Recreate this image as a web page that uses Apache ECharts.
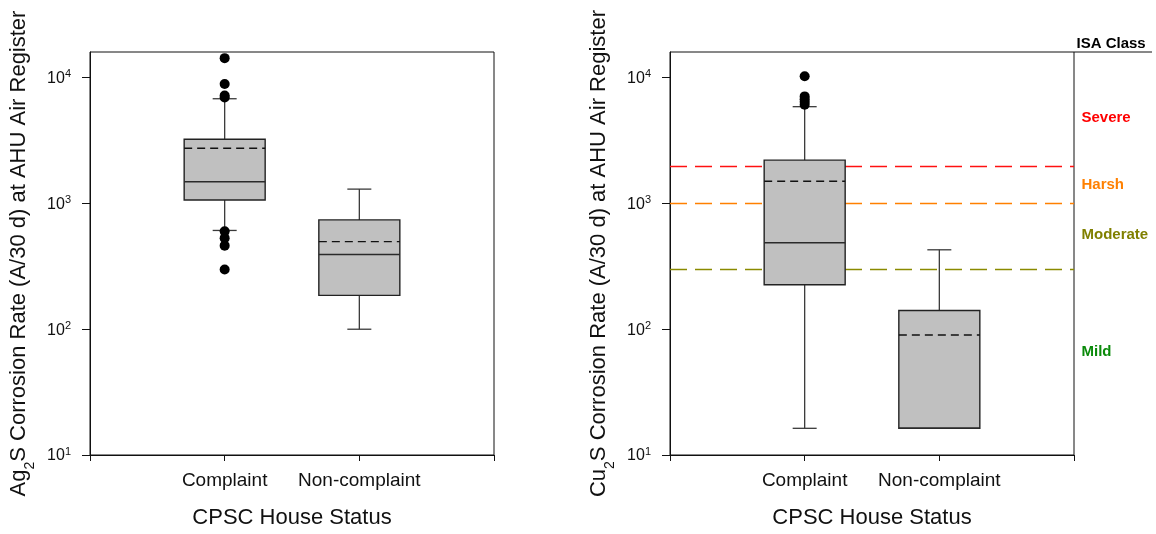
<!DOCTYPE html>
<html>
<head>
<meta charset="utf-8">
<script src="https://cdn.jsdelivr.net/npm/echarts@6/dist/echarts.min.js"></script>
<style>
html,body{margin:0;padding:0;background:#fff;}
#chart{width:1156px;height:534px;}
</style>
</head>
<body>
<div id="chart"></div>
<script>
// ---------- data ----------
const categories = ['', 'Complaint', 'Non-complaint', ''];
const boxPositions = [1, 2];           // category indexes of the two boxes
const yTicks = [10, 100, 1000, 10000];

// Ag2S panel (Complaint, Non-complaint)
const agWhiskerLow  = [610, 100];
const agQ1          = [1065, 186];
const agMedian      = [1490, 393];
const agQ3          = [3240, 740];
const agWhiskerHigh = [6800, 1300];
const agMean        = [2750, 497];
const agOutliersComplaint    = [14300, 8900, 7200, 6950, 600, 530, 462, 298];
const agOutliersNonComplaint = [];

// Cu2S panel (Complaint, Non-complaint)
const cuWhiskerLow  = [16.3, 16.3];
const cuQ1          = [226, 16.3];
const cuMedian      = [487, 16.3];
const cuQ3          = [2210, 141];
const cuWhiskerHigh = [5880, 428];
const cuMean        = [1500, 90];
const cuOutliersComplaint    = [10250, 7100, 6750, 6400, 6100];
const cuOutliersNonComplaint = [];

// ISA classification
const isaLimits = [2000, 1000, 300];
const isaClasses = ['Severe', 'Harsh', 'Moderate', 'Mild'];
const isaClassLabelY = [4800, 1400, 560, 66];
const isaHeader = 'ISA Class';
const isaHeaderY = 18500;

// ---------- styles ----------
const FONT = "'Liberation Sans', Arial, Helvetica, sans-serif";
const isaLineColors = ['#ff1010', '#ff8000', '#8a8a00'];
const isaTextColors = ['#ff0000', '#ff8000', '#808000', '#0a8a0a'];

function boxData(lo, q1, md, q3, hi, mn) {
  return boxPositions.map((p, i) => [p, lo[i], q1[i], md[i], q3[i], hi[i], mn[i]]);
}
function outlierData(comp, non) {
  return comp.map(v => [boxPositions[0], v]).concat(non.map(v => [boxPositions[1], v]));
}

function renderBox(params, api) {
  const x = api.value(0);
  const lo = api.coord([x, api.value(1)]);
  const q1 = api.coord([x, api.value(2)]);
  const md = api.coord([x, api.value(3)]);
  const q3 = api.coord([x, api.value(4)]);
  const hi = api.coord([x, api.value(5)]);
  const mn = api.coord([x, api.value(6)]);
  const cx = lo[0];
  const hw = 40.5, cw = 12;
  const wStyle = { stroke: '#3a3a3a', lineWidth: 1.3 };
  return {
    type: 'group',
    children: [
      { type: 'line', shape: { x1: cx, y1: q3[1], x2: cx, y2: hi[1] }, style: wStyle },
      { type: 'line', shape: { x1: cx - cw, y1: hi[1], x2: cx + cw, y2: hi[1] }, style: wStyle },
      { type: 'line', shape: { x1: cx, y1: q1[1], x2: cx, y2: lo[1] }, style: wStyle },
      { type: 'line', shape: { x1: cx - cw, y1: lo[1], x2: cx + cw, y2: lo[1] }, style: wStyle },
      { type: 'rect', shape: { x: cx - hw, y: q3[1], width: hw * 2, height: q1[1] - q3[1] },
        style: { fill: '#c0c0c0', stroke: '#222', lineWidth: 1.4 } },
      { type: 'line', shape: { x1: cx - hw, y1: md[1], x2: cx + hw, y2: md[1] },
        style: { stroke: '#2a2a2a', lineWidth: 1.5 } },
      { type: 'line', shape: { x1: cx - hw, y1: mn[1], x2: cx + hw, y2: mn[1] },
        style: { stroke: '#111', lineWidth: 1.4, lineDash: [8, 5] } }
    ]
  };
}

function renderIsaLine(params, api) {
  const v = api.value(0);
  const i = params.dataIndex;
  const a = api.coord([0, v]);
  const b = api.coord([categories.length - 1, v]);
  const y = Math.round(a[1]) + 0.5;
  return {
    type: 'line',
    shape: { x1: a[0], y1: y, x2: b[0], y2: y },
    style: { stroke: isaLineColors[i], lineWidth: 1.6, lineDash: [17, 8], opacity: 1 }
  };
}

function yAxisFor(gridIndex, title) {
  return {
    type: 'log', gridIndex: gridIndex, min: 10, max: 16000, logBase: 10,
    name: title, nameLocation: 'middle', nameGap: 60, nameRotate: 90,
    nameTextStyle: {
      fontFamily: FONT, color: '#111',
      rich: {
        n: { fontFamily: FONT, fontSize: 22, lineHeight: 22, color: '#111', verticalAlign: 'top' },
        sub: { fontFamily: FONT, fontSize: 14, lineHeight: 14, color: '#111', verticalAlign: 'top', padding: [15, 0, 0, 0] }
      }
    },
    axisLine: { show: true, lineStyle: { color: '#111', width: 1 } },
    axisTick: { show: true, length: 8, inside: false, customValues: yTicks, lineStyle: { color: '#111' } },
    minorTick: { show: false },
    splitLine: { show: false },
    axisLabel: {
      customValues: yTicks, margin: 19, fontFamily: FONT, color: '#111',
      formatter: v => '{b|10}{s|' + Math.round(Math.log10(v)) + '}',
      rich: {
        b: { fontFamily: FONT, fontSize: 16, lineHeight: 18, color: '#111', verticalAlign: 'bottom' },
        s: { fontFamily: FONT, fontSize: 11, lineHeight: 9, color: '#111', verticalAlign: 'top' }
      }
    }
  };
}

function xAxisFor(gridIndex) {
  return {
    type: 'category', gridIndex: gridIndex, data: categories, boundaryGap: false,
    name: 'CPSC House Status', nameLocation: 'middle', nameGap: 52,
    nameTextStyle: { fontFamily: FONT, fontSize: 22, color: '#111' },
    axisLine: { show: true, lineStyle: { color: '#111', width: 1 } },
    axisTick: { show: true, length: 6, inside: false, interval: 0, lineStyle: { color: '#111' } },
    axisLabel: { interval: 0, margin: 16, fontFamily: FONT, fontSize: 19, color: '#111' },
    splitLine: { show: false }
  };
}

const chart = echarts.init(document.getElementById('chart'), null, { renderer: 'canvas' });

const option = {
  backgroundColor: '#fff',
  animation: false,
  grid: [
    { left: 90, right: 662, top: 52, bottom: 78, show: true, borderColor: '#111', borderWidth: 1, backgroundColor: 'transparent' },
    { left: 670, right: 82, top: 52, bottom: 78, show: true, borderColor: '#111', borderWidth: 1, backgroundColor: 'transparent' }
  ],
  xAxis: [xAxisFor(0), xAxisFor(1)],
  yAxis: [
    yAxisFor(0, '{n|Ag}{sub|2}{n|S Corrosion Rate (A/30 d) at AHU Air Register}'),
    yAxisFor(1, '{n|Cu}{sub|2}{n|S Corrosion Rate (A/30 d) at AHU Air Register}')
  ],
  graphic: [
    { type: 'line', shape: { x1: 1074, y1: 52, x2: 1152, y2: 52 }, style: { stroke: '#111', lineWidth: 1 }, z: 10 }
  ],
  series: [
    // ISA threshold lines (right panel)
    {
      type: 'custom', xAxisIndex: 1, yAxisIndex: 1, z: 1, silent: true, renderItem: renderIsaLine,
      encode: { y: 0 },
      data: isaLimits.map(v => [v])
    },
    // ISA class labels (right margin of right panel)
    {
      type: 'scatter', xAxisIndex: 1, yAxisIndex: 1, clip: false, z: 1, silent: true,
      symbolSize: 1, itemStyle: { color: 'rgba(0,0,0,0)', opacity: 1 },
      data: isaClasses.map((c, i) => ({
        value: [categories.length - 1, isaClassLabelY[i]], name: c,
        label: { color: isaTextColors[i] }
      })).concat([{ value: [categories.length - 1, isaHeaderY], name: isaHeader,
        label: { color: '#000', distance: 2 } }]),
      label: {
        show: true, position: 'right', distance: 7, formatter: p => p.name, opacity: 1,
        fontFamily: FONT, fontSize: 15, fontWeight: 'bold'
      }
    },
    {
      type: 'custom', xAxisIndex: 0, yAxisIndex: 0, z: 3, renderItem: renderBox,
      encode: { x: 0, y: [1, 2, 3, 4, 5, 6] },
      data: boxData(agWhiskerLow, agQ1, agMedian, agQ3, agWhiskerHigh, agMean)
    },
    {
      type: 'custom', xAxisIndex: 1, yAxisIndex: 1, z: 3, renderItem: renderBox,
      encode: { x: 0, y: [1, 2, 3, 4, 5, 6] },
      data: boxData(cuWhiskerLow, cuQ1, cuMedian, cuQ3, cuWhiskerHigh, cuMean)
    },
    {
      type: 'scatter', xAxisIndex: 0, yAxisIndex: 0, z: 4, symbol: 'circle', symbolSize: 10,
      itemStyle: { color: '#000', opacity: 1 },
      data: outlierData(agOutliersComplaint, agOutliersNonComplaint)
    },
    {
      type: 'scatter', xAxisIndex: 1, yAxisIndex: 1, z: 4, symbol: 'circle', symbolSize: 10,
      itemStyle: { color: '#000', opacity: 1 },
      data: outlierData(cuOutliersComplaint, cuOutliersNonComplaint)
    }
  ]
};
chart.setOption(option);
</script>
</body>
</html>
